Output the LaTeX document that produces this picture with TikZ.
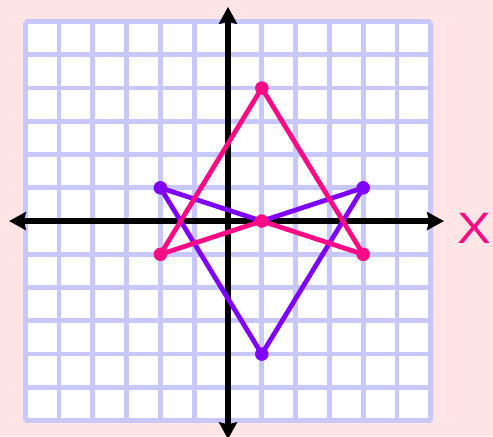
\documentclass[tikz,border=0pt]{standalone}
\usepackage{fontspec}
\setsansfont{Liberation Sans}
\usetikzlibrary{arrows.meta}
\definecolor{bgpink}{RGB}{255,229,229}
\definecolor{gridblue}{RGB}{200,200,255}
\definecolor{hotpink}{RGB}{255,10,132}
\definecolor{violet}{RGB}{128,0,255}
\tikzset{
  gridline/.style={draw=gridblue, line width=4pt},
  axis/.style={-{Stealth[length=5mm, width=5.3mm, inset=0.6mm]}, line width=4.4pt, black},
  shapeline/.style={line width=4pt, line join=round, line cap=round},
  dot/.style={circle, fill, inner sep=0pt, minimum size=4mm},
}

\begin{document}
\begin{tikzpicture}[x=1cm, y=0.984cm]
% --- fondo + cuadricula ---
\fill[bgpink] (-6.746,-6.466) rectangle (7.840,6.647);
\useasboundingbox (-6.746,-6.466) rectangle (7.840,6.647);
\fill[white] (-6,-6) rectangle (6,6);
\foreach \k in {-6,...,6} {
  \draw[gridline] (\k,-6) -- (\k,6);
  \draw[gridline] (-6,\k) -- (6,\k);
}

% --- ejes ---
\coordinate (o) at (0,0);
\draw[axis] (o) -- (6.39,0);
\draw[axis] (o) -- (-6.48,0);
\draw[axis] (o) -- (0,6.44);
\draw[axis] (o) -- (0,-6.56);
\node[text=hotpink, font=\sffamily\fontsize{37}{37}\selectfont] (xlbl) at (7.29,-0.22)
  {\scalebox{1.15}[1]{X}};

% --- vertices ---
\coordinate (vL) at (-2,1);
\coordinate (vM) at (1,0);
\coordinate (vR) at (4,1);
\coordinate (vB) at (1,-4);
\coordinate (pT) at (1,4);
\coordinate (pR) at (4,-1);
\coordinate (pL) at (-2,-1);

% --- figura violeta ---
\draw[shapeline, violet] (vL) -- (vM) -- (vR) -- (vB) -- cycle;
\foreach \p in {vL, vR, vB} \node[dot, violet] at (\p) {};

% --- figura rosa ---
\draw[shapeline, hotpink] (pT) -- (pR) -- (vM) -- (pL) -- cycle;
\foreach \p in {pT, pR, pL, vM} \node[dot, hotpink] at (\p) {};
\end{tikzpicture}
\end{document}
